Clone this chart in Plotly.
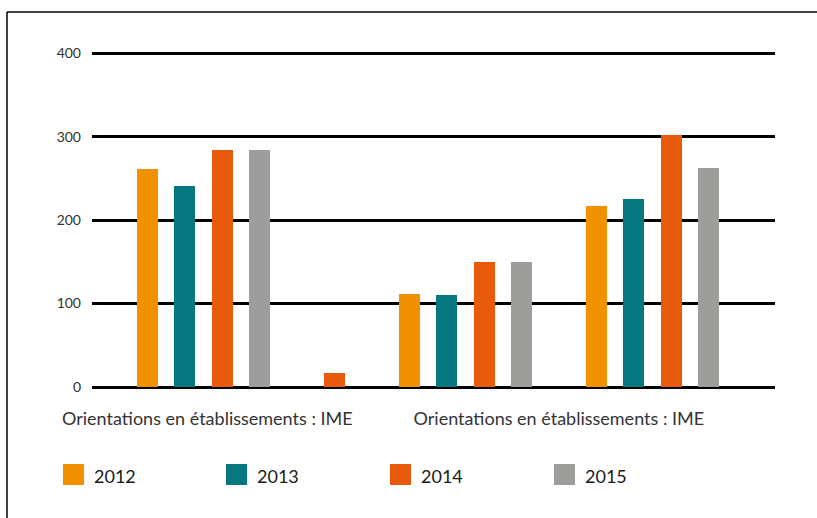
import plotly.graph_objects as go

# ---------------- data ----------------
series_names = ["2012", "2013", "2014", "2015"]
v2012 = [261, None, 111, 217]
v2013 = [241, None, 110, 225]
v2014 = [284, 17, 150, 302]
v2015 = [284, None, 150, 263]
tick_labels = ["Orientations en établissements : IME",
               "Orientations en établissements : IME"]
y_ticks = [0, 100, 200, 300, 400]

# ---------------- style / layout ----------------
colors = ["#F29100", "#05777E", "#E95A0C", "#9D9D9C"]
group_slot_start = [0, 3, 7, 12]      # slot where each group's first series sits
label_slots = [1.6, 11]
FONT = "Lato, 'Open Sans', sans-serif"
TXT = "#333333"

W, H = 817, 518
L, R, T, B = 92, 42, 52, 131
PW, PH = W - L - R, H - T - B


def px_x(px):
    return (px - L) / PW


def px_y(py):
    return (H - B - py) / PH


fig = go.Figure()
values = [v2012, v2013, v2014, v2015]
for si, (name, vals) in enumerate(zip(series_names, values)):
    xs, ys = [], []
    for gi, v in enumerate(vals):
        if v is not None:
            xs.append(group_slot_start[gi] + si)
            ys.append(v)
    fig.add_trace(go.Bar(x=xs, y=ys, name=name, width=0.56,
                         marker=dict(color=colors[si], line=dict(width=0)),
                         showlegend=False))

shapes = []
annotations = []
# outer frame (top and left lines)
shapes.append(dict(type="line", xref="paper", yref="paper",
                   x0=px_x(7), x1=px_x(817), y0=px_y(12), y1=px_y(12),
                   line=dict(color="#000000", width=1.5)))
shapes.append(dict(type="line", xref="paper", yref="paper",
                   x0=px_x(7), x1=px_x(7), y0=px_y(12), y1=px_y(518),
                   line=dict(color="#000000", width=1.5)))

# custom legend
legend_x = [63, 226, 390, 554]
for i, name in enumerate(series_names):
    x0 = legend_x[i]
    shapes.append(dict(type="rect", xref="paper", yref="paper",
                       x0=px_x(x0), x1=px_x(x0 + 21), y0=px_y(485), y1=px_y(464),
                       fillcolor=colors[i], line=dict(width=0)))
    annotations.append(dict(xref="paper", yref="paper", x=px_x(x0 + 29), y=px_y(476),
                            text=name, showarrow=False, xanchor="left", yanchor="middle",
                            font=dict(family=FONT, size=18, color="#1a1a1a")))

fig.update_layout(
    width=W, height=H,
    margin=dict(l=L, r=R, t=T, b=B),
    paper_bgcolor="white", plot_bgcolor="white",
    barmode="overlay",
    bargap=0,
    shapes=shapes,
    annotations=annotations,
    font=dict(family=FONT, color=TXT),
    xaxis=dict(range=[-1.484, 16.78], showgrid=False, zeroline=False,
               showline=False, ticks="", tickmode="array",
               tickvals=label_slots, ticktext=tick_labels,
               tickfont=dict(family=FONT, size=18, color=TXT),
               ticklabelstandoff=19),
    yaxis=dict(range=[0, 401.5], tickmode="array", tickvals=y_ticks,
               showgrid=True, gridcolor="#000000", gridwidth=2.5,
               zeroline=True, zerolinecolor="#000000", zerolinewidth=2.5,
               showline=False, ticks="",
               tickfont=dict(family=FONT, size=14, color=TXT),
               ticklabelstandoff=10),
)

fig.write_html("out.html", config={"displayModeBar": False},
               post_script="document.body.style.margin='0px';")
